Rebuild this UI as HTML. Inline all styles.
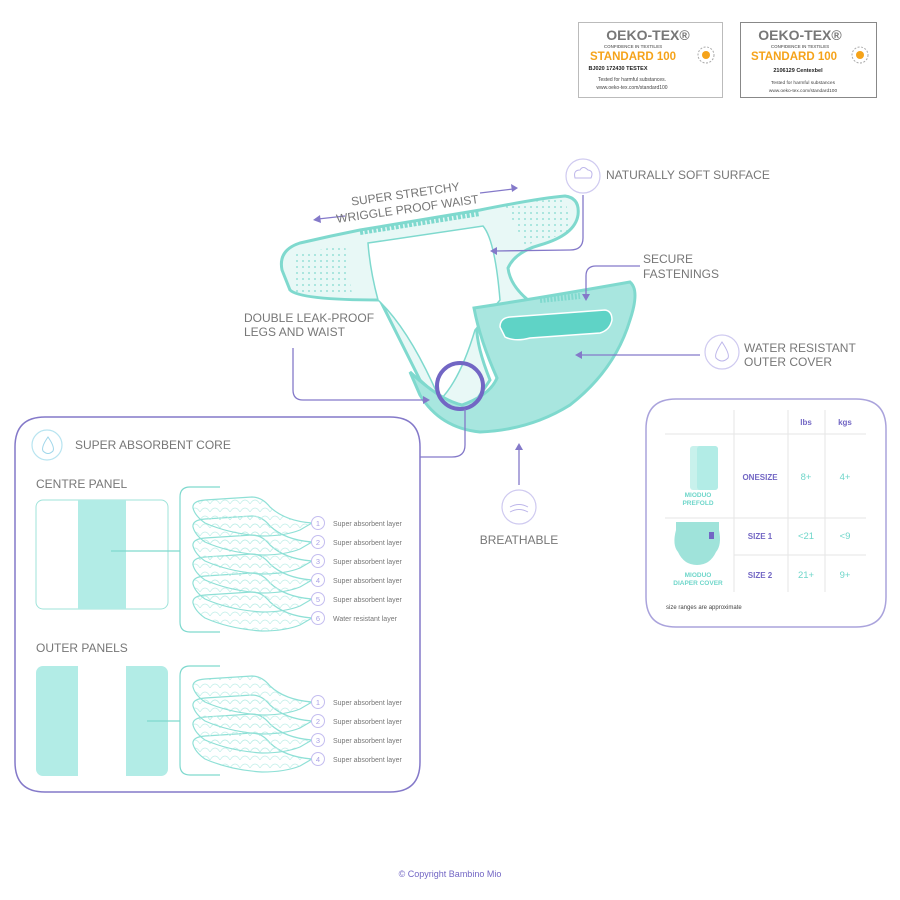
<!DOCTYPE html>
<html><head><meta charset="utf-8"><style>
body{margin:0;background:#fff}
svg{display:block}
text{font-family:"Liberation Sans",sans-serif}
</style></head><body>
<svg id="s" width="900" height="900" viewBox="0 0 900 900">
<defs>
<pattern id="dots" width="6" height="6" patternUnits="userSpaceOnUse"><circle cx="3" cy="3" r="0.9" fill="#7fd9ce"/></pattern>
<pattern id="scale" width="10" height="8" patternUnits="userSpaceOnUse"><path d="M0 8 Q5 0 10 8" fill="none" stroke="#bfeee8" stroke-width="0.7"/></pattern>
</defs>

<g>
<rect x="578.5" y="22.5" width="144" height="75" fill="#fff" stroke="#bbb"/>
<text x="648" y="40" font-size="14" fill="#777" text-anchor="middle" font-weight="bold">OEKO-TEX®</text>
<text x="633" y="48" font-size="4.5" fill="#777" text-anchor="middle" font-weight="bold">CONFIDENCE IN TEXTILES</text>
<text x="633" y="60" font-size="11.5" fill="#f5a31a" text-anchor="middle" font-weight="bold">STANDARD 100</text>
<circle cx="706" cy="55" r="8" fill="none" stroke="#aaa" stroke-dasharray="2 1.5"/><circle cx="706" cy="55" r="4" fill="#f5a31a"/>
<text x="618" y="70" font-size="5.5" fill="#222" text-anchor="middle" font-weight="bold">BJ020 172430 TESTEX</text>
<text x="632" y="81" font-size="5" fill="#444" text-anchor="middle">Tested for harmful substances.</text>
<text x="632" y="89" font-size="5" fill="#444" text-anchor="middle">www.oeko-tex.com/standard100</text>
</g>
<g>
<rect x="740.5" y="22.5" width="136" height="75" fill="#fff" stroke="#888"/>
<text x="800" y="40" font-size="14" fill="#777" text-anchor="middle" font-weight="bold">OEKO-TEX®</text>
<text x="800" y="48" font-size="4.5" fill="#777" text-anchor="middle" font-weight="bold">CONFIDENCE IN TEXTILES</text>
<text x="794" y="60" font-size="11.5" fill="#f5a31a" text-anchor="middle" font-weight="bold">STANDARD 100</text>
<circle cx="860" cy="55" r="8" fill="none" stroke="#aaa" stroke-dasharray="2 1.5"/><circle cx="860" cy="55" r="4" fill="#f5a31a"/>
<text x="798" y="72" font-size="5.5" fill="#222" text-anchor="middle" font-weight="bold">2106129 Centexbel</text>
<text x="803" y="84" font-size="4.8" fill="#444" text-anchor="middle">Tested for harmful substances</text>
<text x="803" y="92" font-size="4.8" fill="#444" text-anchor="middle">www.oeko-tex.com/standard100</text>
</g>

<g>
<path d="M282 270 Q278 250 300 243 Q330 236 360 230 L480 210 Q540 198 565 196 Q580 198 578 215 Q575 235 540 245 Q515 252 508 268 Q510 285 528 300 L480 310 Q470 330 490 380 L470 410 Q440 400 420 380 Q395 330 380 300 Q300 300 290 290 Z" fill="#e8f8f6" stroke="#7fd9ce" stroke-width="3"/>
<path d="M292 255 L345 245 L352 295 L296 295 Z" fill="url(#dots)"/>
<path d="M505 205 L565 198 L572 232 L525 245 Z" fill="url(#dots)"/>
<path d="M368 243 L483 226 Q495 240 500 300 L475 330 Q460 380 440 400 Q410 330 378 300 Q370 270 368 243Z" fill="#fff" stroke="#7fd9ce" stroke-width="1.5"/>
<path d="M360 232 L480 213" stroke="#7fd9ce" stroke-width="6" stroke-dasharray="3 1.5"/>
<path d="M474 308 Q540 298 630 282 Q640 290 630 320 Q615 370 570 405 Q530 430 480 432 Q440 428 420 395 L410 372 Q440 400 462 405 Q490 395 497 378 Q480 340 474 308Z" fill="#a8e6df" stroke="#7fd9ce" stroke-width="3"/>
<path d="M500 327 Q500 318 510 317 L605 310 Q612 311 612 320 Q610 330 600 333 L530 338 Q515 342 505 337Z" fill="#5fd3c6" stroke="#fff" stroke-width="1.5"/>
<path d="M540 300 L580 296" stroke="#7fd9ce" stroke-width="6" stroke-dasharray="2 1.5"/>
<circle cx="460" cy="386" r="23" fill="none" stroke="#7266c4" stroke-width="4"/>
</g>

<g fill="none" stroke="#8479c9" stroke-width="1.3">
<path d="M583 195 L583 238 Q583 250 570 250 L495 251"/>
<path d="M640 266 L596 266 Q586 266 586 276 L586 296"/>
<path d="M700 355 L580 355"/>
<path d="M293 348 L293 390 Q293 400 303 400 L425 400"/>
<path d="M519 485 L519 448"/>
<path d="M465 409 L465 445 Q465 457 452 457 L420 457"/>
<path d="M318 219 L345 216"/><path d="M480 193 L513 189"/>
</g>
<g fill="#8479c9">
<path d="M490 251 L497 247 L497 255Z"/><path d="M586 301 L582 294 L590 294Z"/><path d="M575 355 L582 351 L582 359Z"/>
<path d="M430 400 L423 396 L423 404Z"/><path d="M519 443 L515 450 L523 450Z"/>
<path d="M313 220 L320 215 L321 223Z"/><path d="M518 188 L511 184 L512 192Z"/>
</g>
<text transform="translate(407 206) rotate(-8)" font-size="12" fill="#777" text-anchor="middle"><tspan x="0" y="-8">SUPER STRETCHY</tspan><tspan x="0" y="7">WRIGGLE PROOF WAIST</tspan></text>
<circle cx="583" cy="176" r="17" fill="#fff" stroke="#cfcaf0" stroke-width="1.2"/>
<path d="M575 178 Q573 170 580 170 Q583 165 588 170 Q594 171 591 178 Z" fill="none" stroke="#bdb6ea"/>
<text x="606" y="179" font-size="12" fill="#777">NATURALLY SOFT SURFACE</text>
<text font-size="12" fill="#777"><tspan x="643" y="263">SECURE</tspan><tspan x="643" y="278">FASTENINGS</tspan></text>
<circle cx="722" cy="352" r="17" fill="#fff" stroke="#cfcaf0" stroke-width="1.2"/>
<path d="M722 342 Q714 354 716 358 Q722 364 728 358 Q730 354 722 342Z" fill="none" stroke="#bdb6ea"/>
<text font-size="12" fill="#777"><tspan x="744" y="352">WATER RESISTANT</tspan><tspan x="744" y="366">OUTER COVER</tspan></text>
<text font-size="12" fill="#777"><tspan x="244" y="322">DOUBLE LEAK-PROOF</tspan><tspan x="244" y="336">LEGS AND WAIST</tspan></text>
<circle cx="519" cy="507" r="17" fill="#fff" stroke="#cfcaf0" stroke-width="1.2"/>
<path d="M510 507 Q519 502 528 507 M510 512 Q519 507 528 512" fill="none" stroke="#bdb6ea"/>
<text x="519" y="544" font-size="12" fill="#777" text-anchor="middle">BREATHABLE</text>

<g>
<path d="M15 447 Q15 417 45 417 L390 417 Q420 417 420 447 L420 762 Q420 792 390 792 L45 792 Q15 792 15 762 Z" fill="#fff" stroke="#8479c9" stroke-width="1.5"/>
<circle cx="47" cy="445" r="15" fill="none" stroke="#b8e4f0" stroke-width="1.2"/>
<path d="M48 437 Q41 447 43 451 Q48 456 53 451 Q55 447 48 437Z" fill="none" stroke="#9fd6ea"/>
<text x="75" y="449" font-size="12" fill="#777">SUPER ABSORBENT CORE</text>
<text x="36" y="488" font-size="12" fill="#777">CENTRE PANEL</text>
<rect x="36" y="500" width="132" height="109" rx="7" fill="#fff" stroke="#9fe3da"/>
<rect x="78" y="500" width="48" height="109" fill="#b2ece6"/>
<path d="M111 551 L180 551 M220 487 L190 487 Q180 487 180 497 L180 622 Q180 632 190 632 L220 632" fill="none" stroke="#7fd9ce" stroke-width="1.2"/>
<text x="36" y="652" font-size="12" fill="#777">OUTER PANELS</text>
<rect x="36" y="666" width="132" height="110" rx="7" fill="#b2ece6"/>
<rect x="78" y="666" width="48" height="110" fill="#fff"/>
<path d="M147 721 L180 721 M220 666 L190 666 Q180 666 180 676 L180 765 Q180 775 190 775 L220 775" fill="none" stroke="#7fd9ce" stroke-width="1.2"/>
<g id="layers"></g>
</g>

<g>
<path d="M646 429 Q646 399 676 399 L856 399 Q886 399 886 429 L886 597 Q886 627 856 627 L676 627 Q646 627 646 597 Z" fill="#fff" stroke="#aaa3dc" stroke-width="1.5"/>
<g stroke="#e6e6e6" stroke-width="1">
<path d="M734 410 L734 592 M788 410 L788 592 M825 410 L825 592 M665 434 L866 434 M665 518 L866 518 M734 555 L866 555"/>
</g>
<g font-size="8" fill="#7266c4" text-anchor="middle" font-weight="bold">
<text x="806" y="425">lbs</text><text x="845" y="425">kgs</text>
<text x="760" y="480">ONESIZE</text><text x="760" y="539">SIZE 1</text><text x="760" y="578">SIZE 2</text>
</g>
<g font-size="9.5" fill="#6fd6ca" text-anchor="middle">
<text x="806" y="480">8+</text><text x="845" y="480">4+</text>
<text x="806" y="539">&lt;21</text><text x="845" y="539">&lt;9</text>
<text x="806" y="578">21+</text><text x="845" y="578">9+</text>
</g>
<rect x="690" y="446" width="28" height="44" rx="3" fill="#c8f1ec"/><rect x="697" y="446" width="21" height="44" rx="3" fill="#b2ece6"/>
<path d="M676 522 L719 522 L719 530 Q722 545 716 552 Q710 565 697 565 Q684 565 678 552 Q672 545 676 530Z" fill="#9fe3da"/><rect x="709" y="532" width="5" height="7" fill="#7266c4"/>
<g font-size="6.5" fill="#6fd6ca" text-anchor="middle" font-weight="bold">
<text x="698" y="497">MIODUO</text><text x="698" y="505">PREFOLD</text>
<text x="698" y="577">MIODUO</text><text x="698" y="585">DIAPER COVER</text>
</g>
<text x="666" y="609" font-size="6" fill="#444">size ranges are approximate</text>
</g>

<text x="450" y="877" font-size="9" fill="#7266c4" text-anchor="middle">© Copyright Bambino Mio</text>
</svg>
<script>
const centreLayers=["Super absorbent layer","Super absorbent layer","Super absorbent layer","Super absorbent layer","Super absorbent layer","Water resistant layer"];
const outerLayers=["Super absorbent layer","Super absorbent layer","Super absorbent layer","Super absorbent layer"];
const g=document.getElementById('layers');
const NS='http://www.w3.org/2000/svg';
function drawStack(list,top){
  for(let i=list.length-1;i>=0;i--){
    const y=top+i*19;
    const p=document.createElementNS(NS,'path');
    p.setAttribute('d',`M193 ${y+7} Q192 ${y} 205 ${y-1} L252 ${y-4} Q262 ${y-4} 270 ${y+6} Q285 ${y+20} 312 ${y+22} L300 ${y+29} Q285 ${y+35} 262 ${y+35} Q230 ${y+33} 205 ${y+22} Q195 ${y+15} 193 ${y+7}Z`);
    p.setAttribute('fill','url(#scale)');p.setAttribute('stroke','#8fe0d6');p.setAttribute('stroke-width','1.2');
    
    
    g.appendChild(p);
  }
  list.forEach((t,i)=>{
    const cy=top+22+i*19;
    const c=document.createElementNS(NS,'circle');
    c.setAttribute('cx',318);c.setAttribute('cy',cy);c.setAttribute('r',6.5);
    c.setAttribute('fill','#fff');c.setAttribute('stroke','#c4bdf0');
    
    
    g.appendChild(c);
    const n=document.createElementNS(NS,'text');
    n.setAttribute('x',318);n.setAttribute('y',cy+3);n.setAttribute('font-size','7.5');n.setAttribute('fill','#a9a0e6');n.setAttribute('text-anchor','middle');
    n.textContent=i+1;g.appendChild(n);
    const tx=document.createElementNS(NS,'text');
    tx.setAttribute('x',333);tx.setAttribute('y',cy+3);tx.setAttribute('font-size','7');tx.setAttribute('fill','#777');
    
    
    tx.textContent=t;g.appendChild(tx);
  });
}
drawStack(centreLayers,501);
drawStack(outerLayers,680);
</script>
</body></html>
